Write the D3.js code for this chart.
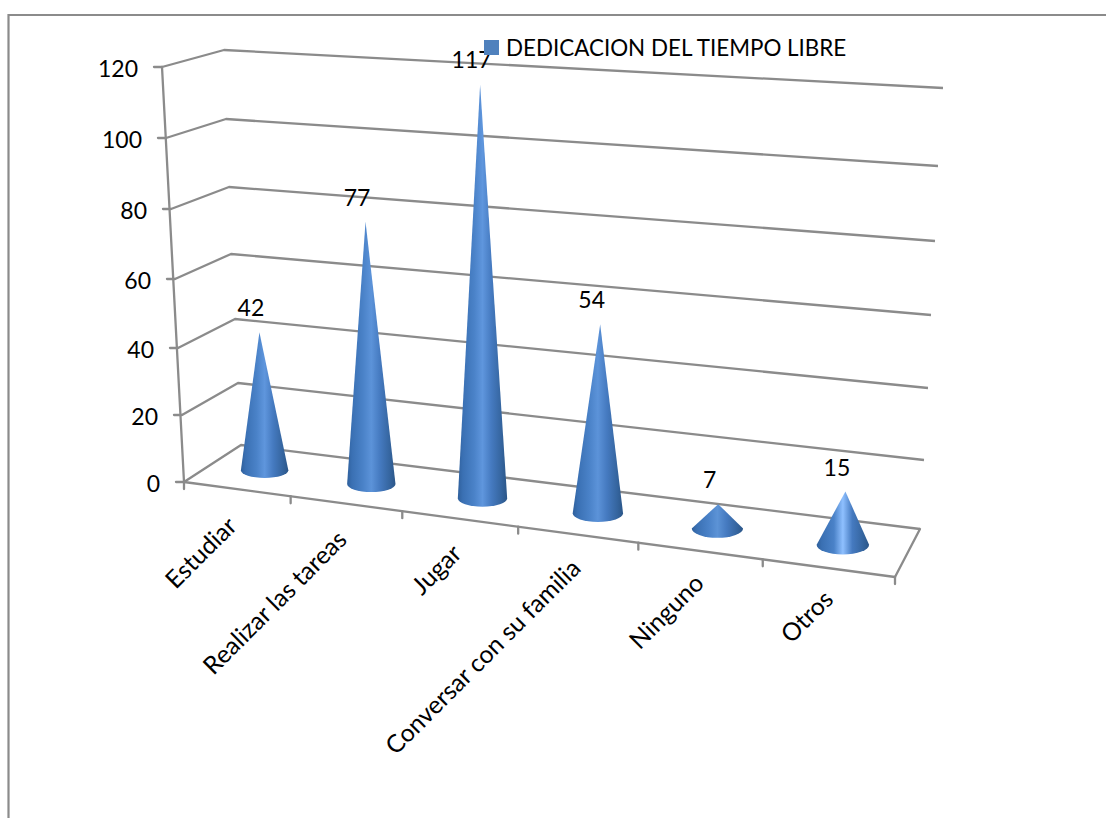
<!DOCTYPE html>
<html>
<head>
<meta charset="utf-8">
<script src="https://cdn.jsdelivr.net/npm/d3@7"></script>
<style>
html,body{margin:0;padding:0;background:#fff;}
svg{display:block;}
text{font-family:Lato,"Open Sans",sans-serif;fill:#000;}
</style>
</head>
<body>
<div id="chart"></div>
<script>
const categories = ["Estudiar","Realizar las tareas","Jugar","Conversar con su familia","Ninguno","Otros"];
const values = [42,77,117,54,7,15];
const seriesName = "DEDICACION DEL TIEMPO LIBRE";
const axisTicks = [0,20,40,60,80,100,120];

const width = 1106, height = 818;
const svg = d3.select("#chart").append("svg").attr("width",width).attr("height",height);

const stroke = "#8b8b8b";

// perspective frame: a scale per box edge (value -> pixel)
const edge = (r) => d3.scaleLinear().domain(axisTicks).range(r);
const frontLeft  = {x: edge([184,182,178,175,171,166,162]), y: edge([482,415,348,279,209,138,67])};
const backLeft   = {x: edge([241,238,235,231,229,226,224]), y: edge([445,383,319,254,187,119,50])};
const backRight  = {x: edge([920,924,928,931,935,938,943]), y: edge([529,460,388,315,241,166,88])};
const frontRight = {x: edge([895,899,904,908,912,917,921]), y: edge([577,503,427,349,270,189,105])};

// category boundaries along the floor, foreshortened
const bounds = d3.scaleLinear().domain(d3.range(7)).range([0,.150,.307,.470,.639,.814,1]);

function project(u,v,d){ // u: across 0..1, v: value, d: depth 0 front..1 back
  const lerp = (a,b,t)=>a+(b-a)*t;
  const pick = (e)=>lerp(
    lerp(frontLeft[e](v),frontRight[e](v),u),
    lerp(backLeft[e](v),backRight[e](v),u), d);
  return [pick("x"),pick("y")];
}

const g = svg.append("g");
const line = (a,b,w=2.3)=>g.append("line")
  .attr("x1",a[0]).attr("y1",a[1]).attr("x2",b[0]).attr("y2",b[1])
  .attr("stroke",stroke).attr("stroke-width",w).attr("stroke-linecap","round");

// outer chart frame: runs off the right and bottom of the page
svg.append("path").attr("d",`M8.5,${height}V15H${width}`)
  .attr("fill","none").attr("stroke",stroke).attr("stroke-width",2.2);

// gridlines on walls
axisTicks.forEach(v=>{
  const pf = project(0,v,0), pb = project(0,v,1), pr = project(1,v,1);
  g.append("path").attr("d",d3.line()([pf,pb,pr]))
    .attr("fill","none").attr("stroke",stroke).attr("stroke-width",2.3).attr("stroke-linejoin","round");
  line([pf[0]-8,pf[1]],pf);
  g.append("text").attr("x",pf[0]-24).attr("y",pf[1]+9.5)
    .attr("text-anchor","end").attr("font-size",23).text(v);
});

// vertical axis (front left edge), floor edges
line(project(0,0,0),project(0,120,0));
line(project(0,0,0),project(1,0,0));
line(project(1,0,0),project(1,0,1));

// ticks along the front floor edge
d3.range(7).forEach(i=>{
  const p = project(bounds(i),0,0);
  line(p,[p[0],p[1]+7]);
});

// cone gradients
const defs = svg.append("defs");
const highlight = ["#5f96dd","#5c93d9","#5f96dd","#5c93d9","#5c93d6","#8fc0ff"];
values.forEach((v,i)=>{
  const grad = defs.append("linearGradient").attr("id","cone"+i)
    .attr("x1","0").attr("x2","1").attr("y1","0").attr("y2","0");
  const stops = [[0,"#2f609c"],[.1,"#3a70b3"],[.33,"#4a82c8"],[.5,highlight[i]],[.68,"#457ac0"],[.88,"#35659f"],[1,"#2b5688"]];
  stops.forEach(s=>grad.append("stop").attr("offset",s[0]).attr("stop-color",s[1]));
});

const rxScale = d3.scaleLinear().domain([0,1]).range([23.5,26.5]);
const ryScale = d3.scaleLinear().domain([0,1]).range([7.5,10]);
const labelDx = d3.scaleLinear().domain([0,1]).range([0.5,6.5]);
const labelDy = d3.scaleLinear().domain([0,1]).range([39,32]);

values.forEach((v,i)=>{
  const u = (bounds(i)+bounds(i+1))/2;
  const base = project(u,0,.5), apex = project(u,v,.5);
  const rx = rxScale(u), ry = ryScale(u);
  svg.append("path")
    .attr("d",`M${apex[0]},${apex[1]}L${base[0]+rx},${base[1]}A${rx},${ry} 0 0 1 ${base[0]-rx},${base[1]}Z`)
    .attr("fill",`url(#cone${i})`);
  svg.append("text").attr("x",apex[0]-8.5).attr("y",apex[1]-16)
    .attr("text-anchor","middle").attr("font-size",23).text(v);
  const t = project(u,0,0);
  svg.append("text")
    .attr("transform",`translate(${t[0]+labelDx(u)},${t[1]+labelDy(u)}) rotate(-45)`)
    .attr("text-anchor","end").attr("font-size",24.7).text(categories[i]);
});

// legend
svg.append("rect").attr("x",484).attr("y",40).attr("width",15).attr("height",15).attr("fill","#4f81bd");
svg.append("text").attr("x",506).attr("y",56).attr("font-size",22.4).text(seriesName);
</script>
</body>
</html>
